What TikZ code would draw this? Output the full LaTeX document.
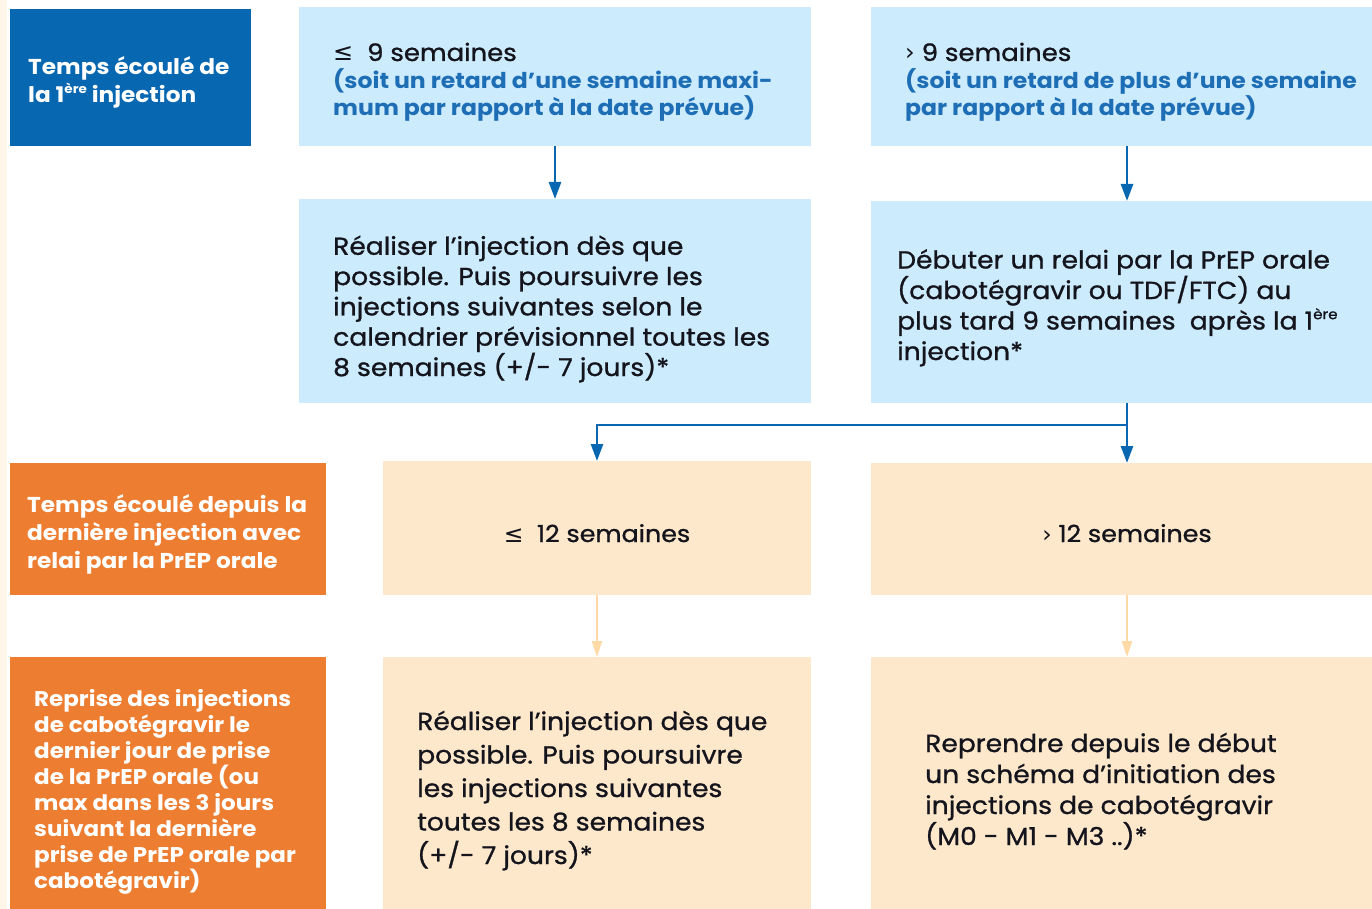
\documentclass[tikz,border=0pt]{standalone}
\usepackage{fontspec}
\setmainfont{Poppins}[FakeStretch=1.08]
\newfontfamily\medf{Poppins}[FakeBold=1.0,FakeStretch=1.08]
\newfontfamily\symf{DejaVu Sans}
\usetikzlibrary{arrows.meta}
\definecolor{dblue}{RGB}{7,103,177}
\definecolor{lblue}{RGB}{204,235,253}
\definecolor{btext}{RGB}{30,110,182}
\definecolor{orng}{RGB}{237,125,49}
\definecolor{peach}{RGB}{254,232,204}
\definecolor{parrow}{RGB}{255,217,166}
\definecolor{cream}{RGB}{255,246,234}
\definecolor{ink}{RGB}{20,20,28}
\newcommand{\supere}[1]{\raisebox{0.42em}{\fontsize{#1}{#1}\selectfont ère}}
\tikzset{
  boxbase/.style={rectangle, inner sep=0pt, anchor=north west, draw=none},
  darkbox/.style={boxbase, fill=dblue},
  lightbox/.style={boxbase, fill=lblue},
  orangebox/.style={boxbase, fill=orng},
  peachbox/.style={boxbase, fill=peach},
  labeltext/.style={anchor=base west, inner sep=0pt, align=left, text=white, font=\bfseries\fontsize{21.5}{28}\selectfont},
  bodytext/.style={anchor=base west, inner sep=0pt, align=left, text=ink, font=\medf\fontsize{24.6}{30.3}\selectfont},
  bluetext/.style={anchor=base west, inner sep=0pt, align=left, text=btext, font=\bfseries\fontsize{21.8}{27.5}\selectfont},
  bluearrow/.style={draw=dblue, line width=2.6pt, -{Triangle[width=12pt,length=17pt]}},
  peacharrow/.style={draw=parrow, line width=2.2pt, -{Triangle[width=10pt,length=16pt]}}
}
\begin{document}
\begin{tikzpicture}[x=1pt,y=-1pt]
\useasboundingbox (0,0) rectangle (1372,909);
\fill[white] (0,0) rectangle (1372,909);
\fill[cream] (0,0) rectangle (7,909);

% row 1
\node[darkbox, minimum width=241pt, minimum height=137pt] (lab1) at (10,9) {};
\node[lightbox, minimum width=512pt, minimum height=139pt] (b1) at (299,7) {};
\node[lightbox, minimum width=501pt, minimum height=139pt] (b2) at (871,7) {};
% row 2
\node[lightbox, minimum width=512pt, minimum height=204pt] (b3) at (299,199) {};
\node[lightbox, minimum width=501pt, minimum height=202pt] (b4) at (871,201) {};
% row 3
\node[orangebox, minimum width=316pt, minimum height=132pt] (lab2) at (10,463) {};
\node[peachbox, minimum width=428pt, minimum height=134pt] (b5) at (383,461) {};
\node[peachbox, minimum width=501pt, minimum height=132pt] (b6) at (871,463) {};
% row 4
\node[orangebox, minimum width=316pt, minimum height=252pt] (lab3) at (10,657) {};
\node[peachbox, minimum width=428pt, minimum height=252pt] (b7) at (383,657) {};
\node[peachbox, minimum width=501pt, minimum height=252pt] (b8) at (871,657) {};

% texts (anchor = baseline of the last line)
\node[labeltext] (t1) at (28,103) {Temps écoulé de\\la 1\supere{12.5} injection};
\node[labeltext] (t2) at (27,568) {Temps écoulé depuis la\\dernière injection avec\\relai par la PrEP orale};
\node[labeltext, font=\bfseries\fontsize{21.3}{25.9}\selectfont] (t3) at (34,888) {Reprise des injections\\de cabotégravir le\\dernier jour de prise\\de la PrEP orale (ou\\max dans les 3 jours\\suivant la dernière\\prise de PrEP orale par\\cabotégravir)};

\node[bodytext, font=\medf\fontsize{24}{28}\selectfont] (t4a) at (333,61) {{\symf ≤}\ \ 9 semaines};
\node[bluetext] (t4b) at (333,116) {(soit un retard d’une semaine maxi-\\mum par rapport à la date prévue)};
\node[bodytext, font=\medf\fontsize{24}{28}\selectfont] (t5a) at (905,61) {{\symf ›} 9 semaines};
\node[bluetext] (t5b) at (905,116) {(soit un retard de plus d’une semaine\\par rapport à la date prévue)};

\node[bodytext] (t6) at (333,376) {Réaliser l’injection dès que\\possible. Puis poursuivre les\\injections suivantes selon le\\calendrier prévisionnel toutes les\\8 semaines (+/- 7 jours)*};
\node[bodytext, font=\medf\fontsize{24.6}{30.5}\selectfont] (t7) at (897,360) {Débuter un relai par la PrEP orale\\(cabotégravir ou TDF/FTC) au\\plus tard 9 semaines\ \ après la 1\supere{14}\\injection*};

\node[anchor=base, inner sep=0pt, text=ink, font=\medf\fontsize{23.5}{28}\selectfont] (t8) at (597,542) {{\symf ≤}\ \ 12 semaines};
\node[anchor=base, inner sep=0pt, text=ink, font=\medf\fontsize{23.5}{28}\selectfont] (t9) at (1127,542) {{\symf ›} 12 semaines};

\node[bodytext, font=\medf\fontsize{24.6}{33.5}\selectfont] (t10) at (417,864) {Réaliser l’injection dès que\\possible. Puis poursuivre\\les injections suivantes\\toutes les 8 semaines\\(+/- 7 jours)*};
\node[bodytext, font=\medf\fontsize{24.6}{31}\selectfont] (t11) at (925,845) {Reprendre depuis le début\\un schéma d’initiation des\\injections de cabotégravir\\(M0 - M1 - M3 ..)*};

% connectors
\draw[bluearrow] (b1.south -| 555,0) -- (b3.north -| 555,0);
\draw[bluearrow] (b2.south -| 1127,0) -- (b4.north -| 1127,0);
\coordinate (split) at (1127,425);
\coordinate (corner) at (597,425);
\draw[bluearrow] (b4.south -| 1127,0) -- (b6.north -| 1127,0);
\draw[bluearrow] (split) -- (corner) -- (b5.north -| 597,0);
\draw[peacharrow] (b5.south -| 597,0) -- (b7.north -| 597,0);
\draw[peacharrow] (b6.south -| 1127,0) -- (b8.north -| 1127,0);
\end{tikzpicture}
\end{document}
